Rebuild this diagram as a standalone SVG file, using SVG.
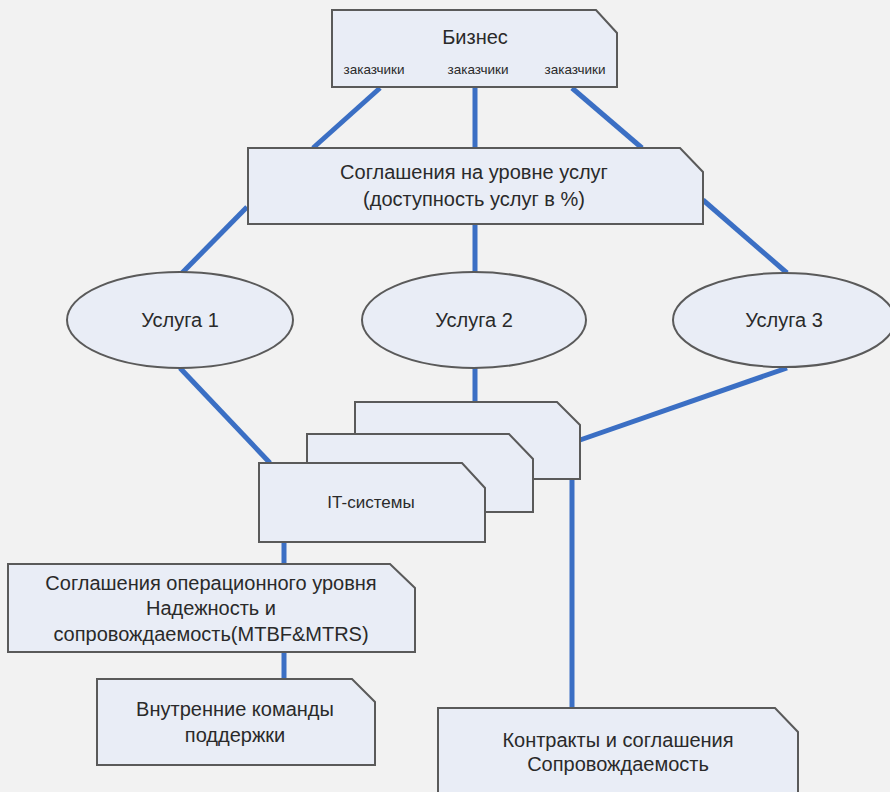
<svg xmlns="http://www.w3.org/2000/svg" width="890" height="792" viewBox="0 0 890 792">
  <style>
    .box { fill: #e9edf6; stroke: #5a5a5a; stroke-width: 2; }
    .link { stroke: #3b6fc4; stroke-width: 5; fill: none; }
    text { font-family: "Liberation Sans", Arial, sans-serif; fill: #2a2a2a; text-anchor: middle; }
    .t { font-size: 20px; }
    .s { font-size: 13.5px; }
    .m { font-size: 17px; }
  </style>
  <rect width="890" height="792" fill="#f2f2f2"/>

  <g id="connectors">
    <line class="link" x1="380" y1="88" x2="313" y2="148"/>
    <line class="link" x1="475" y1="88" x2="475" y2="148"/>
    <line class="link" x1="572" y1="88" x2="642" y2="148"/>
    <line class="link" x1="247" y1="207" x2="182" y2="273"/>
    <line class="link" x1="475" y1="224" x2="475" y2="273"/>
    <line class="link" x1="703" y1="200" x2="787" y2="273"/>
    <line class="link" x1="180" y1="368" x2="270" y2="463"/>
    <line class="link" x1="475" y1="368" x2="475" y2="402"/>
    <line class="link" x1="787" y1="368" x2="580" y2="440"/>
    <line class="link" x1="284" y1="542" x2="284" y2="564"/>
    <line class="link" x1="284" y1="652" x2="284" y2="679"/>
    <line class="link" x1="572" y1="479" x2="572" y2="708"/>
  </g>

  <g id="business">
    <path class="box" d="M332 10 H596 L617 33 V87 H332 Z"/>
    <text class="t" x="475" y="44">Бизнес</text>
    <text class="s" x="374" y="74">заказчики</text>
    <text class="s" x="478" y="74">заказчики</text>
    <text class="s" x="575" y="74">заказчики</text>
  </g>

  <g id="sla">
    <path class="box" d="M248 148 H680 L703 172 V224 H248 Z"/>
    <text class="t" x="474" y="179">Соглашения на уровне услуг</text>
    <text class="t" x="474" y="206">(доступность услуг в %)</text>
  </g>

  <g id="service1">
    <ellipse class="box" cx="180" cy="320" rx="113" ry="48"/>
    <text class="t" x="180" y="327">Услуга 1</text>
  </g>
  <g id="service2">
    <ellipse class="box" cx="474" cy="320" rx="112" ry="48"/>
    <text class="t" x="474" y="327">Услуга 2</text>
  </g>
  <g id="service3">
    <ellipse class="box" cx="784" cy="320" rx="111" ry="47"/>
    <text class="t" x="784" y="327">Услуга 3</text>
  </g>

  <g id="it-systems">
    <path class="box" d="M355 402 H557 L580 425 V479 H355 Z"/>
    <path class="box" d="M307 434 H509 L533 459 V512 H307 Z"/>
    <path class="box" d="M259 463 H462 L485 488 V542 H259 Z"/>
    <text class="m" x="371" y="508">IT-системы</text>
  </g>

  <g id="ola">
    <path class="box" d="M8 564 H390 L415 588 V652 H8 Z"/>
    <text class="t" x="211" y="590">Соглашения операционного уровня</text>
    <text class="t" x="211" y="615">Надежность и</text>
    <text class="t" x="211" y="641">сопровождаемость(MTBF&amp;MTRS)</text>
  </g>

  <g id="internal-teams">
    <path class="box" d="M97 679 H352 L375 702 V765 H97 Z"/>
    <text class="t" x="235" y="716">Внутренние команды</text>
    <text class="t" x="235" y="742">поддержки</text>
  </g>

  <g id="contracts">
    <path class="box" d="M438 708 H775 L798 732 V800 H438 Z"/>
    <text class="t" x="618" y="747">Контракты и соглашения</text>
    <text class="t" x="618" y="771">Сопровождаемость</text>
  </g>
</svg>
